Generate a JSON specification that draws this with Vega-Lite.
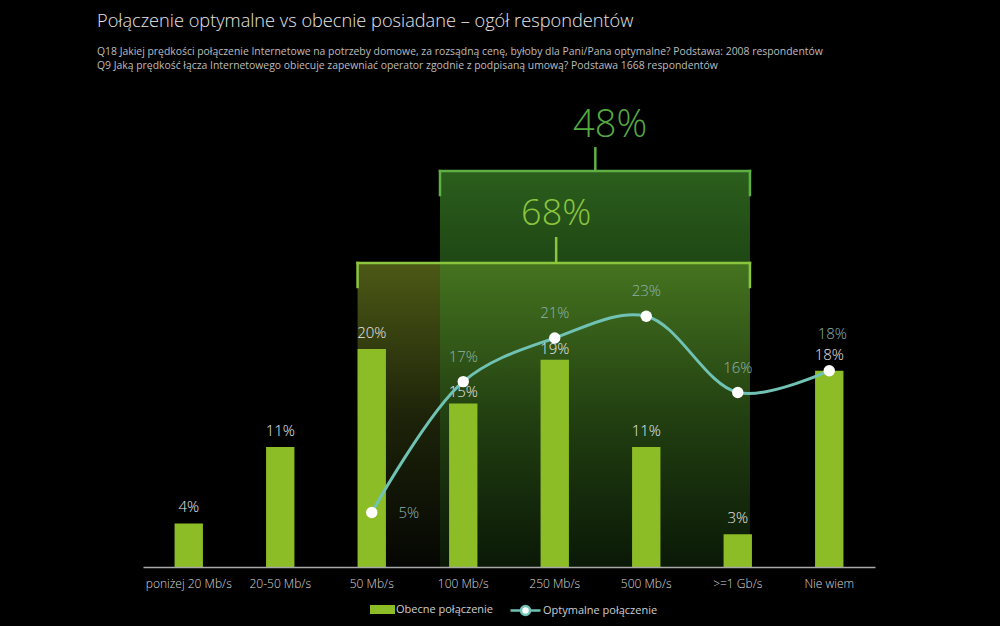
{
  "$schema": "https://vega.github.io/schema/vega-lite/v6.json",
  "width": 732,
  "height": 458,
  "autosize": {"type": "none"},
  "padding": {"left": 143, "top": 109, "right": 125, "bottom": 59},
  "background": "#000000",
  "config": {
    "view": {"stroke": null},
    "font": "Open Sans",
    "text": {"font": "Open Sans"},
    "axisX": {"labelAngle": 0, "ticks": false, "grid": false, "domainColor": "#a8a8a8", "domainWidth": 1.5, "labelColor": "#d8d8d8", "labelFont": "Open Sans", "labelFontSize": 12, "labelFontWeight": 300, "labelPadding": 11}
  },
  "title": {
    "text": "Połączenie optymalne vs obecnie posiadane – ogół respondentów",
    "subtitle": [
      "Q18 Jakiej prędkości połączenie Internetowe na potrzeby domowe, za rozsądną cenę, byłoby dla Pani/Pana optymalne? Podstawa: 2008 respondentów",
      "Q9 Jaką prędkość łącza Internetowego obiecuje zapewniać operator zgodnie z podpisaną umową? Podstawa 1668 respondentów"
    ],
    "anchor": "start",
    "frame": "group",
    "dx": -46,
    "offset": 35,
    "font": "Open Sans",
    "fontSize": 18.2,
    "fontWeight": 300,
    "color": "#e6e6e6",
    "subtitleFont": "Open Sans",
    "subtitleFontSize": 10.4,
    "subtitleColor": "#bdbdbd",
    "subtitlePadding": 15,
    "subtitleLineHeight": 14
  },
  "datasets": {
    "speeds": [
      {"category": "poniżej 20 Mb/s", "series": "Obecne połączenie", "value": 0.04},
      {"category": "20-50 Mb/s", "series": "Obecne połączenie", "value": 0.11},
      {"category": "50 Mb/s", "series": "Obecne połączenie", "value": 0.20},
      {"category": "100 Mb/s", "series": "Obecne połączenie", "value": 0.15},
      {"category": "250 Mb/s", "series": "Obecne połączenie", "value": 0.19},
      {"category": "500 Mb/s", "series": "Obecne połączenie", "value": 0.11},
      {"category": ">=1 Gb/s", "series": "Obecne połączenie", "value": 0.03},
      {"category": "Nie wiem", "series": "Obecne połączenie", "value": 0.18},
      {"category": "50 Mb/s", "series": "Optymalne połączenie", "value": 0.05},
      {"category": "100 Mb/s", "series": "Optymalne połączenie", "value": 0.17},
      {"category": "250 Mb/s", "series": "Optymalne połączenie", "value": 0.21},
      {"category": "500 Mb/s", "series": "Optymalne połączenie", "value": 0.23},
      {"category": ">=1 Gb/s", "series": "Optymalne połączenie", "value": 0.16},
      {"category": "Nie wiem", "series": "Optymalne połączenie", "value": 0.18}
    ],
    "brackets": [
      {"bracket": "68%", "from": "50 Mb/s", "to": ">=1 Gb/s", "total": 0.68},
      {"bracket": "48%", "from": "100 Mb/s", "to": ">=1 Gb/s", "total": 0.48}
    ]
  },
  "layer": [
    {
      "data": {"name": "brackets"},
      "transform": [{"filter": "datum.bracket === '68%'"}],
      "mark": {"type": "rect", "fill": {"gradient": "linear", "x1": 0, "y1": 0, "x2": 0, "y2": 1, "stops": [{"offset": 0, "color": "#4d5916"}, {"offset": 0.5, "color": "#1d2409"}, {"offset": 1, "color": "#050603"}]}},
      "encoding": {
        "x": {"field": "from", "type": "nominal", "title": null, "bandPosition": 0, "scale": {"domain": ["poniżej 20 Mb/s", "20-50 Mb/s", "50 Mb/s", "100 Mb/s", "250 Mb/s", "500 Mb/s", ">=1 Gb/s", "Nie wiem"], "paddingInner": 0.69, "paddingOuter": 0.345}},
        "x2": {"field": "to", "bandPosition": 0.93},
        "y": {"datum": 0.2788, "type": "quantitative", "scale": {"domain": [0, 0.42], "nice": false}, "axis": null},
        "y2": {"datum": 0}
      }
    },
    {
      "data": {"name": "brackets"},
      "transform": [{"filter": "datum.bracket === '48%'"}],
      "mark": {"type": "rect", "fill": {"gradient": "linear", "x1": 0, "y1": 0, "x2": 0, "y2": 1, "stops": [{"offset": 0, "color": "rgba(72,157,47,0.6)"}, {"offset": 0.25, "color": "rgba(60,140,40,0.5)"}, {"offset": 1, "color": "rgba(20,60,15,0.35)"}]}},
      "encoding": {
        "x": {"field": "from", "type": "nominal", "title": null, "bandPosition": -0.32},
        "x2": {"field": "to", "bandPosition": 0.93},
        "y": {"datum": 0.3631, "type": "quantitative"},
        "y2": {"datum": 0}
      }
    },
    {
      "data": {"name": "brackets"},
      "transform": [{"filter": "datum.bracket === '68%'"}],
      "layer": [
        {"mark": {"type": "rule", "color": "#8cc63f", "strokeWidth": 2.5, "strokeCap": "square"},
         "encoding": {"x": {"field": "from", "type": "nominal", "title": null, "bandPosition": 0}, "x2": {"field": "to", "bandPosition": 0.93}, "y": {"datum": 0.2788, "type": "quantitative"}}},
        {"mark": {"type": "rule", "color": "#8cc63f", "strokeWidth": 2.5, "strokeCap": "square"},
         "encoding": {"x": {"field": "from", "type": "nominal", "title": null, "bandPosition": 0}, "y": {"datum": 0.2788, "type": "quantitative"}, "y2": {"datum": 0.2568}}},
        {"mark": {"type": "rule", "color": "#8cc63f", "strokeWidth": 2.5, "strokeCap": "square"},
         "encoding": {"x": {"field": "to", "type": "nominal", "title": null, "bandPosition": 0.93}, "y": {"datum": 0.2788, "type": "quantitative"}, "y2": {"datum": 0.2568}}},
        {"mark": {"type": "rule", "color": "#8cc63f", "strokeWidth": 2.5},
         "encoding": {"x": {"datum": "250 Mb/s", "type": "nominal", "title": null, "bandPosition": 0.55}, "y": {"datum": 0.2788, "type": "quantitative"}, "y2": {"datum": 0.3026}}},
        {"mark": {"type": "text", "color": "#8cc63f", "fontSize": 36, "fontWeight": 300, "baseline": "middle", "align": "center", "dy": 2},
         "encoding": {"x": {"datum": "250 Mb/s", "type": "nominal", "title": null, "bandPosition": 0.55}, "y": {"datum": 0.3255, "type": "quantitative"}, "text": {"field": "total", "type": "quantitative", "format": ".0%"}}}
      ]
    },
    {
      "data": {"name": "brackets"},
      "transform": [{"filter": "datum.bracket === '48%'"}],
      "layer": [
        {"mark": {"type": "rule", "color": "#5fb043", "strokeWidth": 2.5, "strokeCap": "square"},
         "encoding": {"x": {"field": "from", "type": "nominal", "title": null, "bandPosition": -0.32}, "x2": {"field": "to", "bandPosition": 0.93}, "y": {"datum": 0.3631, "type": "quantitative"}}},
        {"mark": {"type": "rule", "color": "#5fb043", "strokeWidth": 2.5, "strokeCap": "square"},
         "encoding": {"x": {"field": "from", "type": "nominal", "title": null, "bandPosition": -0.32}, "y": {"datum": 0.3631, "type": "quantitative"}, "y2": {"datum": 0.3411}}},
        {"mark": {"type": "rule", "color": "#5fb043", "strokeWidth": 2.5, "strokeCap": "square"},
         "encoding": {"x": {"field": "to", "type": "nominal", "title": null, "bandPosition": 0.93}, "y": {"datum": 0.3631, "type": "quantitative"}, "y2": {"datum": 0.3411}}},
        {"mark": {"type": "rule", "color": "#5fb043", "strokeWidth": 2.5},
         "encoding": {"x": {"datum": "250 Mb/s", "type": "nominal", "title": null, "bandPosition": 1.93}, "y": {"datum": 0.3631, "type": "quantitative"}, "y2": {"datum": 0.3851}}},
        {"mark": {"type": "text", "color": "#55a941", "fontSize": 38, "fontWeight": 300, "baseline": "middle", "align": "center", "dy": 3},
         "encoding": {"x": {"datum": "250 Mb/s", "type": "nominal", "title": null, "bandPosition": 2.45}, "y": {"datum": 0.4071, "type": "quantitative"}, "text": {"field": "total", "type": "quantitative", "format": ".0%"}}}
      ]
    },
    {
      "data": {"name": "speeds"},
      "transform": [{"filter": "datum.series === 'Obecne połączenie'"}],
      "layer": [
        {
          "mark": {"type": "bar"},
          "encoding": {
            "x": {"field": "category", "type": "nominal", "title": null},
            "y": {"field": "value", "type": "quantitative"},
            "fill": {"field": "series", "type": "nominal", "scale": {"domain": ["Obecne połączenie"], "range": ["#8cbd26"]},
              "legend": {"orient": "none", "legendX": 234, "legendY": 495, "direction": "horizontal", "title": null, "symbolSize": 100, "symbolType": "M-2.5,-0.9H2.5V0.9H-2.5Z", "symbolStrokeWidth": 0, "labelFont": "Open Sans", "labelFontSize": 11, "labelColor": "#cfcfcf", "labelOffset": 8}}
          }
        },
        {
          "transform": [{"filter": "datum.category !== '100 Mb/s' && datum.category !== '250 Mb/s'"}],
          "mark": {"type": "text", "dy": -16, "baseline": "middle", "fontSize": 15, "fontWeight": 300, "color": "#e8e8e8"},
          "encoding": {
            "x": {"field": "category", "type": "nominal", "title": null},
            "y": {"field": "value", "type": "quantitative"},
            "text": {"field": "value", "type": "quantitative", "format": ".0%"}
          }
        },
        {
          "transform": [{"filter": "datum.category === '100 Mb/s' || datum.category === '250 Mb/s'"}],
          "mark": {"type": "text", "dy": -11, "baseline": "middle", "fontSize": 15, "fontWeight": 300, "color": "#e8e8e8"},
          "encoding": {
            "x": {"field": "category", "type": "nominal", "title": null},
            "y": {"field": "value", "type": "quantitative"},
            "text": {"field": "value", "type": "quantitative", "format": ".0%"}
          }
        }
      ]
    },
    {
      "data": {"name": "speeds"},
      "transform": [{"filter": "datum.series === 'Optymalne połączenie'"}],
      "layer": [
        {
          "mark": {"type": "line", "interpolate": "catmull-rom", "strokeWidth": 3},
          "encoding": {
            "x": {"field": "category", "type": "nominal", "title": null},
            "y": {"field": "value", "type": "quantitative"},
            "stroke": {"field": "series", "type": "nominal", "scale": {"domain": ["Optymalne połączenie"], "range": ["#70c2b4"]},
              "legend": {"orient": "none", "legendX": 376, "legendY": 495, "direction": "horizontal", "title": null, "symbolSize": 100, "symbolType": "M-3,0H-0.9M0.9,0H3M0.9,0A0.9,0.9,0,1,1,-0.9,0A0.9,0.9,0,1,1,0.9,0Z", "symbolFillColor": "#ffffff", "symbolStrokeWidth": 2.5, "labelFont": "Open Sans", "labelFontSize": 11, "labelColor": "#cfcfcf", "labelOffset": 11}}
          }
        },
        {
          "mark": {"type": "circle", "color": "#ffffff", "size": 130, "opacity": 1},
          "encoding": {
            "x": {"field": "category", "type": "nominal", "title": null},
            "y": {"field": "value", "type": "quantitative"}
          }
        },
        {
          "transform": [{"filter": "datum.category !== '50 Mb/s' && datum.category !== 'Nie wiem'"}],
          "mark": {"type": "text", "dy": -25, "baseline": "middle", "fontSize": 15, "fontWeight": 300, "color": "#8fb3ab"},
          "encoding": {
            "x": {"field": "category", "type": "nominal", "title": null},
            "y": {"field": "value", "type": "quantitative"},
            "text": {"field": "value", "type": "quantitative", "format": ".0%"}
          }
        },
        {
          "transform": [{"filter": "datum.category === '50 Mb/s'"}],
          "mark": {"type": "text", "dx": 37, "dy": 1, "baseline": "middle", "fontSize": 15, "fontWeight": 300, "color": "#8fb3ab"},
          "encoding": {
            "x": {"field": "category", "type": "nominal", "title": null},
            "y": {"field": "value", "type": "quantitative"},
            "text": {"field": "value", "type": "quantitative", "format": ".0%"}
          }
        },
        {
          "transform": [{"filter": "datum.category === 'Nie wiem'"}],
          "mark": {"type": "text", "dx": 3, "dy": -37, "baseline": "middle", "fontSize": 15, "fontWeight": 300, "color": "#8fb3ab"},
          "encoding": {
            "x": {"field": "category", "type": "nominal", "title": null},
            "y": {"field": "value", "type": "quantitative"},
            "text": {"field": "value", "type": "quantitative", "format": ".0%"}
          }
        }
      ]
    }
  ]
}
